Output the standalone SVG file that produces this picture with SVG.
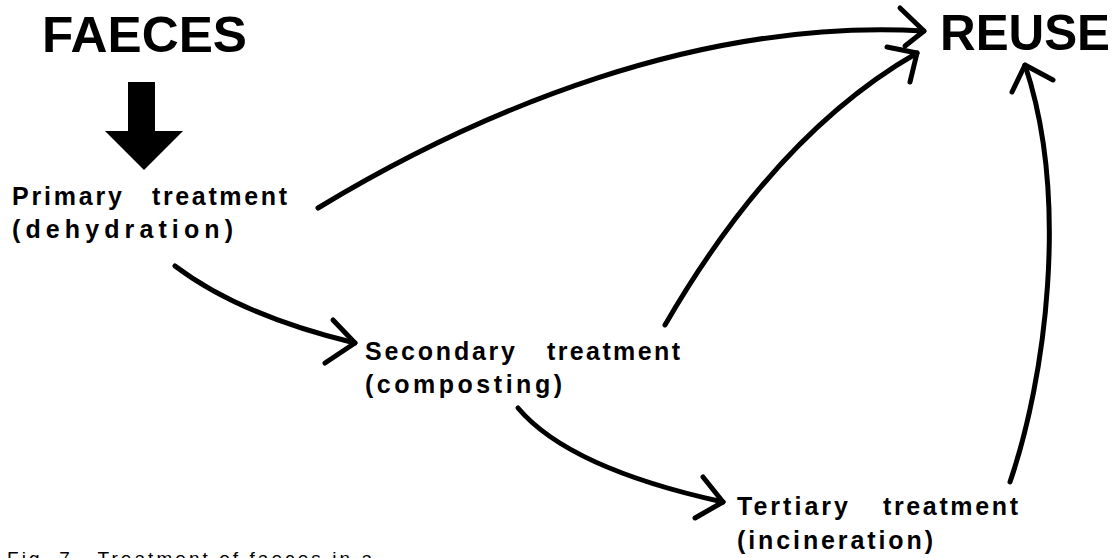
<svg xmlns="http://www.w3.org/2000/svg" width="1118" height="558" viewBox="0 0 1118 558">
<style>
.title{font-family:"Liberation Sans",Arial,sans-serif;font-weight:bold;font-size:50px;fill:#000}
.lbl{font-family:"Liberation Sans",Arial,sans-serif;font-weight:bold;font-size:25px;fill:#000}
.cap{font-family:"Liberation Sans",Arial,sans-serif;font-size:19px;fill:#000}
.conn{fill:none;stroke:#000;stroke-width:5;stroke-linecap:round;stroke-linejoin:round}
</style>
<rect width="1118" height="558" fill="#fff"/>
<g id="faeces">
<text class="title" x="42" y="52" textLength="205" lengthAdjust="spacingAndGlyphs">FAECES</text>
<polygon points="128,82 155,82 155,131 183,131 144,170 105,131 128,131" fill="#000"/>
</g>
<g id="reuse">
<text class="title" x="940" y="50" textLength="170" lengthAdjust="spacingAndGlyphs">REUSE</text>
</g>
<g id="primary">
<text class="lbl" x="12" y="205" textLength="110" lengthAdjust="spacing">Primary</text>
<text class="lbl" x="152" y="205" textLength="135" lengthAdjust="spacing">treatment</text>
<text class="lbl" x="12" y="238" textLength="221" lengthAdjust="spacing">(dehydration)</text>
</g>
<g id="secondary">
<text class="lbl" x="365" y="360" textLength="150" lengthAdjust="spacing">Secondary</text>
<text class="lbl" x="547" y="360" textLength="133" lengthAdjust="spacing">treatment</text>
<text class="lbl" x="365" y="393" textLength="197" lengthAdjust="spacing">(composting)</text>
</g>
<g id="tertiary">
<text class="lbl" x="737" y="515" textLength="111" lengthAdjust="spacing">Tertiary</text>
<text class="lbl" x="883" y="515" textLength="135" lengthAdjust="spacing">treatment</text>
<text class="lbl" x="737" y="549" textLength="196" lengthAdjust="spacing">(incineration)</text>
</g>
<g id="caption">
<text class="cap" x="7" y="565" textLength="365" lengthAdjust="spacing" xml:space="preserve">Fig. 7.  Treatment of faeces in a</text>
</g>
<g id="connectors">
<path class="conn" d="M318,208 C480,110 700,18 924,31"/>
<polyline class="conn" points="900,8 924,31 905,46"/>
<path class="conn" d="M665,325 C720,230 800,120 917,53"/>
<polyline class="conn" points="887,47 917,53 910,82"/>
<path class="conn" d="M1010,482 C1045,380 1070,200 1025,65"/>
<polyline class="conn" points="1012,92 1025,65 1053,80"/>
<path class="conn" d="M175,266 C220,300 280,325 355,343"/>
<polyline class="conn" points="333,320 355,343 325,363"/>
<path class="conn" d="M518,408 C545,440 600,475 723,502"/>
<polyline class="conn" points="703,477 723,502 695,518"/>
</g>
</svg>
